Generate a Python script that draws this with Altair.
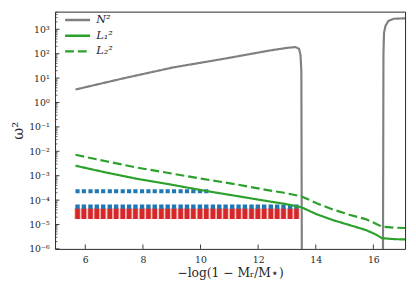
import altair as alt
import pandas as pd

# ---------------- data ----------------
names = ["N²", "L₁²", "L₂²"]

# N^2 (two visible pieces)
n2_x1 = [5.66, 7.36, 9.06, 10.75, 12.45, 13.02, 13.30, 13.42, 13.47, 13.50, 13.52]
n2_y1 = [3.4, 10.0, 27.5, 60.0, 138.0, 174.0, 186.0, 158.0, 89.0, 20.0, 1e-8]
n2_x2 = [16.33, 16.35, 16.37, 16.42, 16.52, 16.70, 17.10]
n2_y2 = [1e-8, 100.0, 710.0, 1380.0, 2190.0, 2690.0, 2820.0]

# L1^2 (solid) and L2^2 (dashed)
l_x = [5.66, 6.68, 7.81, 8.94, 10.07, 11.20, 12.22, 12.90, 13.47, 13.55,
       14.03, 14.60, 15.17, 15.73, 16.07, 16.30, 16.75, 17.10]
l1_y = [2.57e-3, 1.38e-3, 7.4e-4, 4.4e-4, 2.5e-4, 1.51e-4, 9.5e-5, 7.1e-5, 5.2e-5, 4.8e-5,
        2.63e-5, 1.51e-5, 9.5e-6, 6.0e-6, 4.0e-6, 2.75e-6, 2.5e-6, 2.45e-6]
l2_y = [7.2e-3, 3.98e-3, 2.14e-3, 1.26e-3, 7.4e-4, 4.5e-4, 2.7e-4, 2.0e-4, 1.45e-4, 1.35e-4,
        7.4e-5, 4.1e-5, 2.5e-5, 1.66e-5, 1.1e-5, 8.1e-6, 7.4e-6, 7.2e-6]

# markers
mode_x = [5.73, 5.95, 6.18, 6.40, 6.62, 6.85, 7.07, 7.30, 7.52, 7.74, 7.97, 8.19,
          8.41, 8.64, 8.86, 9.08, 9.31, 9.53, 9.75, 9.98, 10.20, 10.43, 10.65, 10.87,
          11.10, 11.32, 11.54, 11.77, 11.99, 12.21, 12.44, 12.66, 12.88, 13.11, 13.33]
upper_blue_x = mode_x[:21]
upper_blue_y = 2.3e-4
lower_blue_y = 5.4e-5
red_top = 4.6e-5
red_bottom = 1.7e-5

x_ticks = [6, 8, 10, 12, 14, 16]
y_ticks = [1e-6, 1e-5, 1e-4, 1e-3, 1e-2, 1e-1, 1e0, 1e1, 1e2, 1e3]
y_minor = [m * d for d in y_ticks for m in range(2, 10) if m * d <= 5280]

X_DOMAIN = [4.95, 17.1]
Y_DOMAIN = [1e-6, 5280]
W, H = 357, 242

GRAY = "#808080"
GREEN = "#2ca02c"
BLUE = "#1f77b4"
RED = "#d62728"
INK = "#262626"
SERIF = "DejaVu Serif"

# ---------------- tables ----------------
rows = []
for x, y in zip(n2_x1, n2_y1):
    rows.append({"x": x, "y": y, "series": names[0], "seg": "n2a"})
for x, y in zip(n2_x2, n2_y2):
    rows.append({"x": x, "y": y, "series": names[0], "seg": "n2b"})
for x, y in zip(l_x, l1_y):
    rows.append({"x": x, "y": y, "series": names[1], "seg": "l1"})
for x, y in zip(l_x, l2_y):
    rows.append({"x": x, "y": y, "series": names[2], "seg": "l2"})
lines_df = pd.DataFrame(rows)

red_df = pd.DataFrame({"x": mode_x, "lo": [red_bottom] * len(mode_x), "hi": [red_top] * len(mode_x)})
blue_lo_df = pd.DataFrame({"x": mode_x, "y": [lower_blue_y] * len(mode_x)})
blue_hi_df = pd.DataFrame({"x": upper_blue_x, "y": [upper_blue_y] * len(upper_blue_x)})

xs = alt.Scale(domain=X_DOMAIN, nice=False, zero=False)
ys = alt.Scale(type="log", domain=Y_DOMAIN, nice=False)

sup = "['⁻⁶','⁻⁵','⁻⁴','⁻³','⁻²','⁻¹','⁰','¹','²','³']"
x_axis = alt.Axis(values=x_ticks, title="−log(1 − Mᵣ/M⋆)", ticks=False, tickSize=0,
                  domain=False, grid=False, labelFont=SERIF, labelFontSize=9.5,
                  labelColor=INK, labelPadding=6, titleFont=SERIF, titleFontSize=12.5,
                  titleFontWeight="normal", titleColor=INK, titlePadding=3)
y_axis = alt.Axis(values=y_ticks, title="ω²", ticks=False, tickSize=0, domain=False,
                  grid=False, labelFont=SERIF, labelFontSize=9.5, labelColor=INK,
                  labelPadding=6,
                  labelExpr="'10' + " + sup + "[round(log(datum.value)/LN10)+6]",
                  titleFont=SERIF, titleFontSize=15, titleFontWeight="normal",
                  titleColor=INK, titlePadding=3)

base_x = alt.X("x:Q", scale=xs, axis=x_axis)
base_y = alt.Y("y:Q", scale=ys, axis=y_axis)

red_halo = alt.Chart(red_df).mark_rule(color="#f3a5a5", strokeWidth=6.2, clip=True).encode(
    x=alt.X("x:Q", scale=xs), y=alt.Y("hi:Q", scale=ys), y2="lo:Q")
red_bar = alt.Chart(red_df).mark_rule(color=RED, strokeWidth=4.6, clip=True).encode(
    x=alt.X("x:Q", scale=xs), y=alt.Y("hi:Q", scale=ys), y2="lo:Q")
blue_lo = alt.Chart(blue_lo_df).mark_point(shape="square", filled=True, size=20, color=BLUE,
                                           opacity=1, clip=True).encode(
    x=alt.X("x:Q", scale=xs), y=alt.Y("y:Q", scale=ys))
blue_hi = alt.Chart(blue_hi_df).mark_point(shape="square", filled=True, size=18, color=BLUE,
                                           opacity=1, clip=True).encode(
    x=alt.X("x:Q", scale=xs), y=alt.Y("y:Q", scale=ys))

lines = alt.Chart(lines_df).mark_line(strokeWidth=2.2, clip=True).encode(
    x=base_x,
    y=base_y,
    color=alt.Color("series:N", scale=alt.Scale(domain=names, range=[GRAY, GREEN, GREEN]),
                    title=None),
    strokeDash=alt.StrokeDash("series:N",
                              scale=alt.Scale(domain=names, range=[[1, 0], [1, 0], [9, 4]]),
                              title=None),
    detail="seg:N",
)

ymaj_df = pd.DataFrame({"v": y_ticks})
ymin_df = pd.DataFrame({"v": y_minor})
xmaj_df = pd.DataFrame({"v": x_ticks})
ymaj = alt.Chart(ymaj_df).mark_rule(color=INK, strokeWidth=0.9).encode(
    y=alt.Y("v:Q", scale=ys), x=alt.value(0), x2=alt.value(4.5))
ymin = alt.Chart(ymin_df).mark_rule(color=INK, strokeWidth=0.7).encode(
    y=alt.Y("v:Q", scale=ys), x=alt.value(0), x2=alt.value(2.5))
xmaj = alt.Chart(xmaj_df).mark_rule(color=INK, strokeWidth=0.9).encode(
    x=alt.X("v:Q", scale=xs), y=alt.value(H), y2=alt.value(H - 4.5))

chart = alt.layer(red_halo, red_bar, blue_lo, blue_hi, lines, ymaj, ymin, xmaj).properties(
    width=W, height=H,
    autosize=alt.AutoSizeParams(type="none"),
    padding={"left": 48, "top": 1, "right": 3, "bottom": 29},
).configure_view(
    stroke=INK, strokeWidth=1
).configure_legend(
    orient="none", legendX=13, legendY=-1.5, padding=0, rowPadding=0,
    symbolType="M-1.5,0H1.5", symbolSize=289, symbolStrokeWidth=2.5,
    labelFont="DejaVu Serif", labelFontStyle="italic", labelFontSize=11.5,
    labelColor=INK, labelOffset=9, strokeColor=None
)

chart.save("out.html", embed_options={"renderer": "svg", "actions": False})
